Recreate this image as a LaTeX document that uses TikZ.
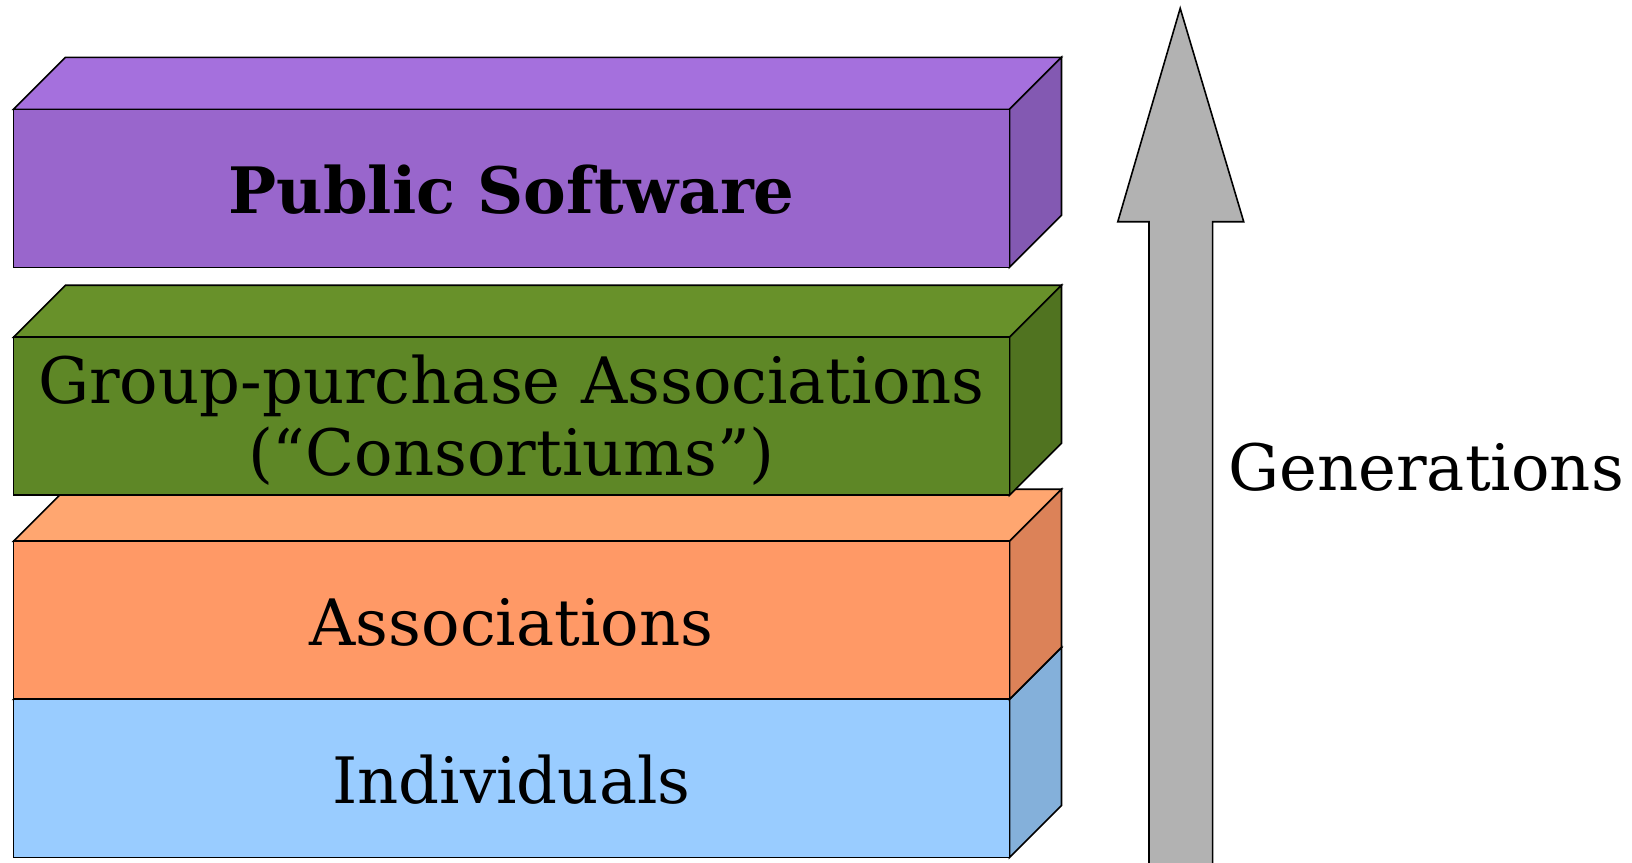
\documentclass[tikz,border=0pt]{standalone}
\usepackage{fontspec}
\setmainfont{DejaVu Serif}

\definecolor{pubfront}{RGB}{153,102,204}
\definecolor{pubtop}{RGB}{165,112,221}
\definecolor{pubside}{RGB}{131,89,178}
\definecolor{grpfront}{RGB}{94,135,38}
\definecolor{grptop}{RGB}{104,145,42}
\definecolor{grpside}{RGB}{80,115,32}
\definecolor{assfront}{RGB}{255,153,102}
\definecolor{asstop}{RGB}{255,166,112}
\definecolor{assside}{RGB}{220,130,88}
\definecolor{indfront}{RGB}{153,204,255}
\definecolor{indtop}{RGB}{165,214,255}
\definecolor{indside}{RGB}{132,176,218}
\definecolor{arrowgray}{RGB}{178,178,178}

\tikzset{
    face/.style={draw=black, line width=1.6pt, line join=miter},
    layer text/.style={font=\fontsize{64}{72}\selectfont, align=center, inner sep=0pt}
}

% #1 top of front face, #2 front, #3 top, #4 side
\newcommand{\layerbox}[4]{
  \draw[face, fill=#3] (13.5,#1) -- (65.5,{#1-52}) -- (1061.5,{#1-52}) -- (1009.5,#1) -- cycle;
  \draw[face, fill=#4] (1009.5,#1) -- (1061.5,{#1-52}) -- (1061.5,{#1+106}) -- (1009.5,{#1+158}) -- cycle;
  \draw[face, fill=#2] (13.5,#1) rectangle (1009.5,{#1+158});
}

\begin{document}
\begin{tikzpicture}[x=1pt, y=-1pt]
  \useasboundingbox (0,0) rectangle (1632,862);

  \layerbox{699.4}{indfront}{indtop}{indside}
  \layerbox{541.2}{assfront}{asstop}{assside}
  \layerbox{337.2}{grpfront}{grptop}{grpside}
  \layerbox{109.3}{pubfront}{pubtop}{pubside}

  \node[layer text] (ind) at (511.5, 780) {Individuals};
  \node[layer text] (ass) at (511.5, 622) {Associations};
  \node[layer text] (grp) at (511.5, 420) {Group-purchase Associations\\(“Consortiums”)};
  \node[layer text] (pub) at (511.5, 190) {\bfseries Public Software};

  % generations arrow
  \draw[face, fill=arrowgray] (1180.2,8.3) -- (1243.7,221.7) -- (1212.6,221.7) -- (1212.6,875)
    -- (1149,875) -- (1149,221.7) -- (1117.8,221.7) -- cycle;
  \node[layer text, anchor=west] (gen) at (1228, 467) {Generations};
\end{tikzpicture}
\end{document}
